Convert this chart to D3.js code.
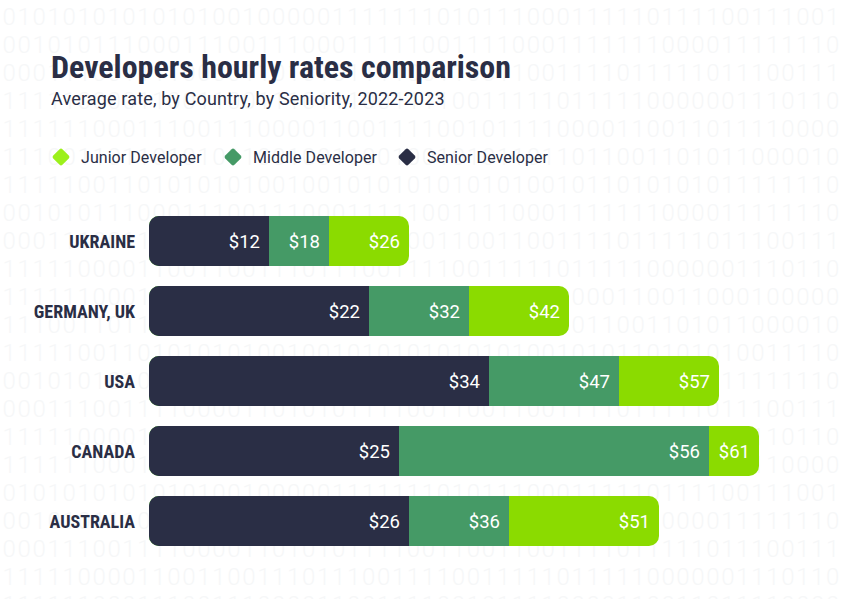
<!DOCTYPE html>
<html>
<head>
<meta charset="utf-8">
<script src="https://cdn.jsdelivr.net/npm/d3@7"></script>
<style>
  html, body { margin: 0; background: #fff; }
  svg { display: block; font-family: Roboto, sans-serif; }
</style>
</head>
<body>
<svg id="chart" width="851" height="599"></svg>
<script>
const countries = ['UKRAINE', 'GERMANY, UK', 'USA', 'CANADA', 'AUSTRALIA'];
const senior = [12, 22, 34, 25, 26];
const middle = [18, 32, 47, 56, 36];
const junior = [26, 42, 57, 61, 51];

// the faint binary wallpaper, one string per row
const binaryA = '0101010101010100100000111111' + '1010111000111110111100111001';
const binaryB = '0010101110001110011100011111' + '0011110001111111000011111110';
const binaryC = '0001110011110000110101011110' + '0110011001111011111011100111';
const binaryD = '1111100001100110011101110011' + '1100111110111110000001110110';
const binaryE = '1111110001110011100001100111' + '1001011110000110011011110000';
const binaryE2 = '1111110001110011100001100111' + '1001011110000110011000100000';
const binaryF = '1110011011010101100100110010' + '0101011011011001101011000010';
const binaryG = '1111100110101010100100101010' + '1010101001011010101011111110';
const binaryG2 = '1111100110101010100100101010' + '1010101001010110101010011110';
const binaryH = '0010101010101010101010101010' + '0101010101010101010011111110';
const binaryRows = [binaryA, binaryB, binaryC, binaryD, binaryE, binaryF, binaryG, binaryB, binaryC, binaryD, binaryE2,
  binaryF, binaryG2, binaryH, binaryC, binaryD, binaryE, binaryA, binaryB, binaryC, binaryD, binaryE];

const dark = '#2a2e45';
const seriesList = [
  { name: 'Junior Developer', values: junior, color: '#8bdb00', swatch: '#9cf01c', legendX: 61 },
  { name: 'Middle Developer', values: middle, color: '#459a66', swatch: '#459a66', legendX: 233 },
  { name: 'Senior Developer', values: senior, color: dark, swatch: dark, legendX: 407 }
];

const svg = d3.select('#chart');

// background digits
svg.append('g').selectAll('text')
  .data(binaryRows)
  .join('text')
  .attr('x', 2.6)
  .attr('y', (d, i) => 24.5 + i * 28)
  .attr('font-size', 24)
  .attr('font-weight', 300)
  .attr('letter-spacing', 1.66)
  .attr('fill', '#f6f7f8')
  .text(d => d);

// title + subtitle
svg.append('text')
  .attr('x', 51).attr('y', 78)
  .attr('font-family', '"Roboto Condensed", Roboto, sans-serif')
  .attr('font-size', 31).attr('font-weight', 700)
  .attr('fill', dark)
  .attr('textLength', 460).attr('lengthAdjust', 'spacingAndGlyphs')
  .text('Developers hourly rates comparison');

svg.append('text')
  .attr('x', 51).attr('y', 105)
  .attr('font-size', 18).attr('font-weight', 400)
  .attr('letter-spacing', 0.15)
  .attr('fill', dark)
  .text('Average rate, by Country, by Seniority, 2022-2023');

// legend
const legend = svg.append('g').selectAll('g')
  .data(seriesList)
  .join('g')
  .attr('transform', d => `translate(${d.legendX},157)`);

legend.append('rect')
  .attr('x', -6.5).attr('y', -6.5)
  .attr('width', 13).attr('height', 13)
  .attr('rx', 2)
  .attr('transform', 'rotate(45)')
  .attr('fill', d => d.swatch);

legend.append('text')
  .attr('x', 20).attr('y', 6)
  .attr('font-size', 16)
  .attr('letter-spacing', 0.05)
  .attr('fill', dark)
  .text(d => d.name);

// scales
const x = d3.scaleLinear().domain([0, 61]).range([149, 759]);
const y = d3.scaleBand().domain(countries).range([216, 546]).paddingInner(2 / 7);
const radius = 10;

// left corners always rounded, right corners only on the longest (junior) bar
function barPath(value, country, roundRight) {
  const p = d3.path();
  const x0 = x(0), x1 = x(value), y0 = y(country), y1 = y0 + y.bandwidth();
  const r = roundRight ? radius : 0;
  p.moveTo(x0 + radius, y0);
  p.lineTo(x1 - r, y0);
  if (r) p.arcTo(x1, y0, x1, y0 + r, r);
  p.lineTo(x1, y1 - r);
  if (r) p.arcTo(x1, y1, x1 - r, y1, r);
  p.lineTo(x0 + radius, y1);
  p.arcTo(x0, y1, x0, y1 - radius, radius);
  p.lineTo(x0, y0 + radius);
  p.arcTo(x0, y0, x0 + radius, y0, radius);
  p.closePath();
  return p.toString();
}

// bars all start at zero, longest first, so they overlap
const rows = svg.append('g').selectAll('g')
  .data(seriesList)
  .join('g');

rows.selectAll('path')
  .data(s => s.values.map((v, i) => ({ value: v, country: countries[i], series: s })))
  .join('path')
  .attr('d', d => barPath(d.value, d.country, d.series.name === 'Junior Developer'))
  .attr('fill', d => d.series.color);

rows.selectAll('text')
  .data(s => s.values.map((v, i) => ({ value: v, country: countries[i] })))
  .join('text')
  .attr('x', d => x(d.value) - 9)
  .attr('y', d => y(d.country) + 25)
  .attr('dy', '0.37em')
  .attr('text-anchor', 'end')
  .attr('font-size', 18.5)
  .attr('font-weight', 400)
  .attr('fill', '#fff')
  .text(d => `$${d.value}`);

// country labels
const axis = svg.append('g')
  .attr('transform', `translate(${x(0)},0.8)`)
  .call(d3.axisLeft(y).tickSize(0).tickPadding(14));
axis.select('.domain').remove();
axis.selectAll('text')
  .attr('font-family', '"Roboto Condensed", Roboto, sans-serif')
  .attr('font-size', 18)
  .attr('font-weight', 700)
  .attr('fill', dark);
</script>
</body>
</html>
